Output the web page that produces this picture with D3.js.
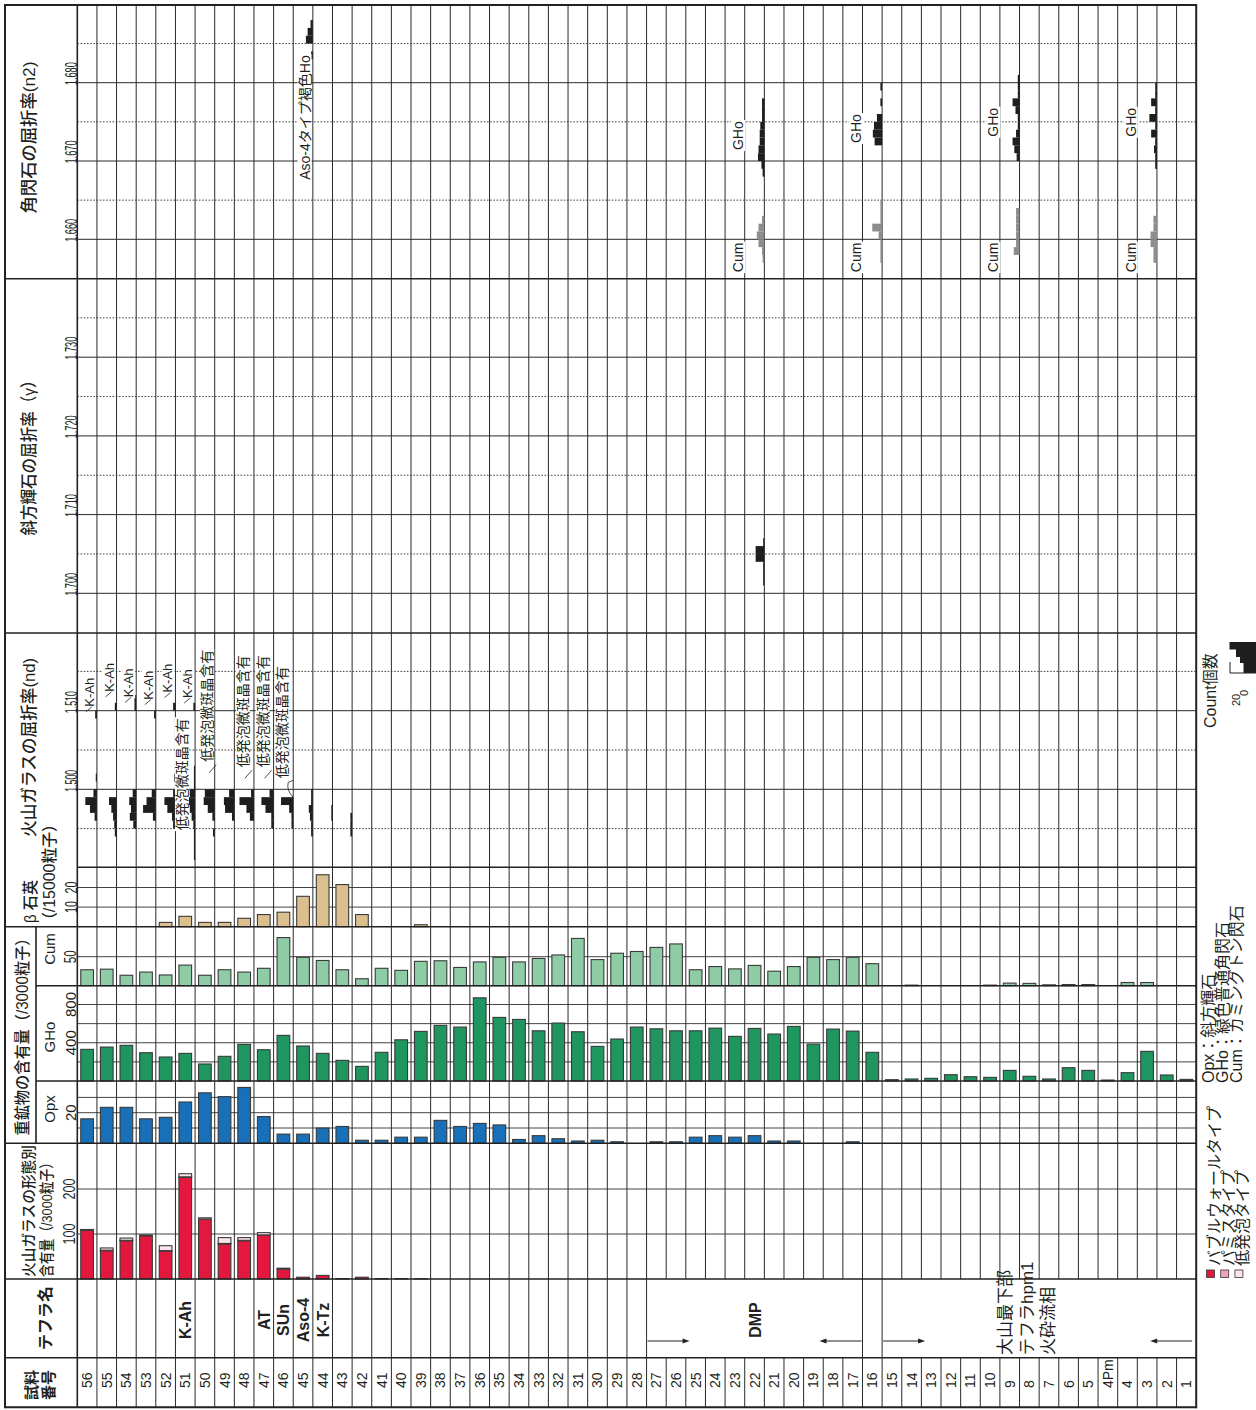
<!DOCTYPE html>
<html>
<head>
<meta charset="utf-8">
<style>
html, body { margin: 0; padding: 0; background: #fff; overflow: hidden; }
svg { display: block; }
text { font-family: "Liberation Sans", Arial, "Noto Sans CJK JP", sans-serif; fill: #231f20; }
</style>
<title></title></head>
<body>
<script src="https://cdn.jsdelivr.net/npm/d3@7/dist/d3.min.js"></script>
<script>

// sample order, left to right
var samples = ["56","55","54","53","52","51","50","49","48","47","46","45","44","43","42","41","40","39","38","37",
  "36","35","34","33","32","31","30","29","28","27","26","25","24","23","22","21","20","19","18","17",
  "16","15","14","13","12","11","10","9","8","7","6","5","4Pm","4","3","2","1"];

// volcanic glass by shape (/3000 grains): bubble wall, pumice, low vesicular
var glassBW = [108,63,85,96,62,226,133,78,85,98,22,4,8,1,4,1,1,0.5,0,0, 0,0,0,0,0,0,0,0,0,0,0,0,0,0,0,0,0,0,0,0, 0,0,0,0,0,0,0,0,0,0,0,0,0,0,0,0,0];
var glassPm = [1,1,1,0,1,1,0,1,1,0,0,0,0,0,0,0,0,0,0,0, 0,0,0,0,0,0,0,0,0,0,0,0,0,0,0,0,0,0,0,0, 0,0,0,0,0,0,0,0,0,0,0,0,0,0,0,0,0];
var glassLv = [1,5,5,2,11,7,3,13,6,5,2,0,0,0,0,0,0,0,0,0, 0,0,0,0,0,0,0,0,0,0,0,0,0,0,0,0,0,0,0,0, 0,0,0,0,0,0,0,0,0,0,0,0,0,0,0,0,0];

// heavy minerals (/3000 grains)
var opx = [16,23.5,23.5,16,17,27,33,30.5,36.5,17.5,6,6,10,11,2,2,4,4,15,11,
  13,12,2.5,5,3,1.5,2,1,0,1,1,4,5,4,5,1.5,1.5,0,0,1, 0,0,0,0,0,0,0,0,0,0,0,0,0,0,0,0,0];
var gho = [331,355,373,296,251,289,178,258,383,327,477,366,289,216,153,300,431,519,582,564,
  870,665,644,525,606,515,362,439,564,546,525,525,553,467,550,491,571,386,543,522,
  300,14,21,28,66,45,38,111,49,21,139,111,10,87,310,63,17];
var cum = [27.5,28.5,18,23.5,18.5,35.5,18,27.5,23.5,30,83,49,43.5,27.5,12,30,26.5,42,43,31.5,
  41,49,41,47,53,81.5,45,56,59,66,72,27.5,33,29,35,25,33,49,45,49,
  38,0,1,0,0,0,1,4.5,4,1.5,2,2,0,5.5,5.5,0,0];

// beta quartz (/15000 grains)
var quartz = [0,0,0,0,2.2,5.3,2.2,2.2,4.3,6.2,7.4,15.5,26.5,21.5,6.2,0,0,1,0,0,
  0,0,0,0,0,0,0,0,0,0,0,0,0,0,0,0,0,0,0,0, 0,0,0,0,0,0,0,0,0,0,0,0,0,0,0,0,0];

// refractive index histograms: [bin lower bound, count]
var ndHist = {
  "56": [[1.509,3],[1.501,2],[1.499,6],[1.498,20],[1.497,12],[1.496,4]],
  "55": [[1.510,3],[1.498,13],[1.497,9],[1.496,6],[1.495,4],[1.494,3]],
  "54": [[1.511,3],[1.510,3],[1.499,6],[1.498,12],[1.497,9],[1.496,11],[1.495,5]],
  "53": [[1.509,3],[1.499,7],[1.498,16],[1.497,22],[1.496,5]],
  "52": [[1.510,4],[1.501,2],[1.499,4],[1.498,19],[1.497,14],[1.496,6],[1.495,4]],
  "51": [[1.510,3],[1.502,2],[1.501,2],[1.500,2],[1.499,9],[1.498,13],[1.497,9],[1.496,6],[1.495,3],[1.494,2],[1.493,2],[1.492,2],[1.491,2]],
  "50": [[1.499,17],[1.498,19],[1.497,12],[1.496,4],[1.494,3]],
  "49": [[1.499,9],[1.498,18],[1.497,16],[1.496,4]],
  "48": [[1.499,5],[1.498,25],[1.497,13],[1.496,7]],
  "47": [[1.499,7],[1.498,21],[1.497,14],[1.496,4],[1.495,4]],
  "46": [[1.498,21],[1.497,7],[1.496,3],[1.495,3]],
  "45": [[1.499,3],[1.498,3],[1.497,7],[1.496,5],[1.495,3],[1.494,3]],
  "44": [[1.497,2],[1.496,2]],
  "43": [[1.496,3],[1.495,3],[1.494,3]]
};
var gammaHist = {
  "22": [[1.701,2],[1.702,2],[1.703,2],[1.704,15],[1.705,15],[1.706,2]]
};
var n2GHoHist = {
  "22": [[1.677,4],[1.676,4],[1.675,4],[1.674,7],[1.673,8],[1.672,8],[1.671,10],[1.670,11],[1.669,5],[1.668,3]],
  "16": [[1.679,3],[1.677,3],[1.675,9],[1.674,14],[1.673,16],[1.672,13]],
  "9": [[1.680,3],[1.679,3],[1.678,3],[1.677,12],[1.676,7],[1.675,3],[1.674,3],[1.673,6],[1.672,12],[1.671,9],[1.670,5]],
  "3": [[1.679,3],[1.678,3],[1.677,10],[1.676,3],[1.675,13],[1.674,3],[1.673,10],[1.672,3],[1.671,5],[1.670,3],[1.669,3]]
};
var n2CumHist = {
  "22": [[1.662,4],[1.661,10],[1.660,13],[1.659,10],[1.658,4],[1.657,3]],
  "16": [[1.664,3],[1.663,3],[1.662,3],[1.661,17],[1.660,6],[1.659,3],[1.658,3],[1.657,3]],
  "9": [[1.663,6],[1.662,6],[1.661,6],[1.660,6],[1.659,6],[1.658,10]],
  "3": [[1.662,6],[1.661,6],[1.660,11],[1.659,11],[1.658,6],[1.657,6]]
};
var n2BrownHist = {
  "45": [[1.687,4],[1.686,9],[1.685,12],[1.683,3]]
};

// tick labels
var n2Ticks = [1.660, 1.670, 1.680];
var gammaTicks = [1.700, 1.710, 1.720, 1.730];
var ndTicks = [1.500, 1.510];
var quartzTicks = [10, 20];
var cumTicks = [50];
var ghoTicks = [400, 800];
var opxTicks = [20];
var glassTicks = [100, 200];

// tephra names
var tephraSamples = ["51","47","46","45","44"];
var tephraNames = ["K-Ah","AT","SUn","Aso-4","K-Tz"];

// annotations
var kahSamples = ["56","55","54","53","52","51"];
var kahAt = [1.5105, 1.5124, 1.5117, 1.5114, 1.5123, 1.5116];
var lowSamples = ["51","50","48","47","46"];
var lowAt = [1.4948, 1.5035, 1.5028, 1.5028, 1.5014];
var n2LabelSamples = ["22","16","9","3"];
var ghoLabelAt = [1.6714, 1.6723, 1.6731, 1.6731];

var width = 1256, height = 1410;
var left = 5, x0 = 77.3, right = 1196.2, topY = 5, bottom = 1407.3;

var svg = d3.select("body").append("svg")
    .attr("width", width)
    .attr("height", height);

var x = d3.scaleBand().domain(samples).range([x0, right]);
var bw = x.bandwidth();
var barW = 12.7;
var cnt = d3.scaleLinear().domain([0, 20]).range([0, 11.6]);

// vertical scales of each panel
var yN2 = d3.scaleLinear().domain([1.660, 1.680]).range([239.3, 82.7]);
var yG = d3.scaleLinear().domain([1.700, 1.730]).range([593.3, 357.2]);
var yNd = d3.scaleLinear().domain([1.500, 1.510]).range([789.3, 710.7]);
var yQ = d3.scaleLinear().domain([0, 20]).range([926.7, 887.5]);
var yCum = d3.scaleLinear().domain([0, 50]).range([985.7, 956.7]);
var yGHo = d3.scaleLinear().domain([0, 800]).range([1081, 1004.5]);
var yOpx = d3.scaleLinear().domain([0, 20]).range([1143.3, 1112.7]);
var yGl = d3.scaleLinear().domain([0, 200]).range([1279, 1189]);

var bN2 = 278.7, bG = 633, bNd = 867.3, bQ = 926.7, bCum = 985.7, bGHo = 1081, bOpx = 1143.3, bGl = 1279, bTe = 1357.7;

// horizontal grid lines
function hgrid(vals, y, dashed, color) {
  svg.append("g").selectAll("line").data(vals).join("line")
    .attr("x1", x0).attr("x2", right)
    .attr("y1", d => y(d)).attr("y2", d => y(d))
    .attr("stroke", color || "#2a2a2a")
    .attr("stroke-width", 1)
    .attr("stroke-dasharray", dashed ? "1.6,1.6" : null);
}
hgrid(n2Ticks, yN2);
hgrid([1.665, 1.675, 1.685], yN2, true, "#444");
hgrid(gammaTicks, yG);
hgrid([1.705, 1.715, 1.725, 1.735], yG, true, "#444");
hgrid(ndTicks, yNd);
hgrid([1.495, 1.505, 1.515], yNd, true, "#444");
hgrid(quartzTicks, yQ, false, "#444");
hgrid(cumTicks, yCum, false, "#444");
hgrid([200, 400, 600, 800], yGHo, false, "#444");
hgrid([10, 20, 30], yOpx, false, "#444");
hgrid(glassTicks, yGl, false, "#444");

// vertical column lines; the tephra row is merged for the DMP and lower groups
var edges = d3.range(1, samples.length);
var vg = svg.append("g").attr("stroke", "#2a2a2a").attr("stroke-width", 1);
vg.selectAll(".va").data(edges).join("line")
  .attr("x1", i => x0 + i * bw).attr("x2", i => x0 + i * bw)
  .attr("y1", topY).attr("y2", bGl);
vg.selectAll(".vb").data(edges).join("line")
  .attr("x1", i => x0 + i * bw).attr("x2", i => x0 + i * bw)
  .attr("y1", bTe).attr("y2", bottom);
vg.selectAll(".vc").data(edges.filter(i => i <= samples.indexOf("27") || i == samples.indexOf("16") || i == samples.indexOf("15"))).join("line")
  .attr("x1", i => x0 + i * bw).attr("x2", i => x0 + i * bw)
  .attr("y1", bGl).attr("y2", bTe);

// simple bars
function bars(vals, y, color) {
  var rows = samples.map((s, i) => ({s: s, v: vals[i]})).filter(d => d.v > 0);
  svg.append("g").selectAll("rect").data(rows).join("rect")
    .attr("x", d => x(d.s) + (bw - barW) / 2)
    .attr("y", d => y(d.v))
    .attr("width", barW)
    .attr("height", d => y(0) - y(d.v))
    .attr("fill", color)
    .attr("stroke", "#3a3a3a")
    .attr("stroke-width", 1.1);
}
bars(quartz, yQ, "#dcbf8e");
bars(cum, yCum, "#8ecca6");
bars(gho, yGHo, "#1f955f");
bars(opx, yOpx, "#1870b8");

// stacked glass bars
var glassRows = samples.map((s, i) => ({s: s, bw: glassBW[i], pm: glassPm[i], lv: glassLv[i]}));
var stack = d3.stack().keys(["bw", "pm", "lv"])(glassRows);
var glassColor = {bw: "#e4173f", pm: "#f29ec1", lv: "#fde4ec"};
svg.append("g").selectAll("g").data(stack).join("g")
  .attr("fill", d => glassColor[d.key])
  .selectAll("rect").data(d => d.filter(e => e[1] - e[0] > 0)).join("rect")
  .attr("x", d => x(d.data.s) + (bw - barW) / 2)
  .attr("y", d => yGl(d[1]))
  .attr("width", barW)
  .attr("height", d => yGl(d[0]) - yGl(d[1]))
  .attr("stroke", "#3a3a3a")
  .attr("stroke-width", 1.1);

// refractive index histograms, bars grow leftward from the column's right edge
function hist(data, y, color) {
  var rows = [];
  Object.keys(data).forEach(s => data[s].forEach(b => rows.push({s: s, v: b[0], c: b[1]})));
  svg.append("g").selectAll("rect").data(rows).join("rect")
    .attr("x", d => x(d.s) + bw - cnt(d.c))
    .attr("y", d => y(d.v + 0.001))
    .attr("width", d => cnt(d.c))
    .attr("height", d => y(d.v) - y(d.v + 0.001))
    .attr("fill", color);
}
hist(ndHist, yNd, "#1e1e1e");
hist(gammaHist, yG, "#1e1e1e");
hist(n2GHoHist, yN2, "#1e1e1e");
hist(n2BrownHist, yN2, "#1e1e1e");
hist(n2CumHist, yN2, "#8d8d8d");

// panel borders and frame
function bline(xa, ya, xb, yb, w) {
  svg.append("line").attr("x1", xa).attr("y1", ya).attr("x2", xb).attr("y2", yb)
    .attr("stroke", "#222").attr("stroke-width", w || 1.6);
}
[bN2, bG, bQ, bOpx, bGl, bTe].forEach(y => bline(left, y, right, y));
bline(x0, bNd, right, bNd);
[bCum, bGHo].forEach(y => bline(36, y, right, y));
bline(x0, topY, x0, bottom);
bline(36, bQ, 36, bOpx);
bline(left, topY, right, topY, 2);
bline(left, bottom, right, bottom, 2);
bline(left, topY - 1, left, bottom + 1, 2);
bline(right, topY - 1, right, bottom + 1, 2);

// rotated text helper
function vtext(x, y, str, size, opt) {
  opt = opt || {};
  var g = svg.append("g").attr("transform", "translate(" + x + "," + y + ") rotate(-90)");
  var t = g.append("text")
    .attr("font-size", size)
    .attr("text-anchor", opt.anchor || "start")
    .text(str);
  if (opt.bold) t.attr("font-weight", opt.bold);
  if (opt.len) t.attr("textLength", opt.len).attr("lengthAdjust", "spacingAndGlyphs");
  if (opt.bg) {
    var b = t.node().getBBox();
    g.insert("rect", "text")
      .attr("x", b.x - 1).attr("y", b.y + 1)
      .attr("width", b.width + 2).attr("height", b.height - 2)
      .attr("fill", "#fff");
  }
  return t;
}

// tick labels
n2Ticks.forEach(v => vtext(76.5, yN2(v) + 2.5, d3.format(".3f")(v), 17, {len: 23}));
gammaTicks.forEach(v => vtext(76.5, yG(v) + 2.5, d3.format(".3f")(v), 17, {len: 23}));
ndTicks.forEach(v => vtext(76.5, yNd(v) + 2.5, d3.format(".3f")(v), 17, {len: 22}));
quartzTicks.forEach(v => vtext(76.5, yQ(v), v, 16, {anchor: "middle", len: 12}));
cumTicks.forEach(v => vtext(75.5, yCum(v), v, 16, {anchor: "middle", len: 13}));
ghoTicks.forEach(v => vtext(75.5, yGHo(v), v, 15, {anchor: "middle"}));
opxTicks.forEach(v => vtext(75.5, yOpx(v), v, 15, {anchor: "middle"}));
glassTicks.forEach(v => vtext(75, yGl(v), v, 16, {anchor: "middle", len: 21}));

// panel titles
vtext(35, 137.5, "角閃石の屈折率(n2)", 17, {anchor: "middle", len: 152, bold: 500});
vtext(35, 454, "斜方輝石の屈折率（γ）", 17, {anchor: "middle", len: 163, bold: 500});
vtext(35, 747.5, "火山ガラスの屈折率(nd)", 17, {anchor: "middle", len: 179, bold: 500});
vtext(35.5, 923, "β 石英", 16, {len: 43, bold: 500});
vtext(55, 928, "（/15000粒子）", 16, {len: 112, bold: 500});
vtext(28, 1033, "重鉱物の含有量（/3000粒子）", 16, {anchor: "middle", len: 205, bold: 500});
vtext(55, 949, "Cum", 15, {anchor: "middle"});
vtext(55, 1037, "GHo", 15, {anchor: "middle"});
vtext(55, 1109, "Opx", 15, {anchor: "middle"});
vtext(34, 1277, "火山ガラスの形態別", 15, {len: 132, bold: 500});
vtext(52, 1277, "含有量（/3000粒子）", 15, {len: 121, bold: 500});
vtext(51, 1318, "テフラ名", 16, {anchor: "middle", bold: 600});
vtext(36.5, 1385, "試料", 15, {anchor: "middle", bold: 700});
vtext(53.5, 1385, "番号", 15, {anchor: "middle", bold: 700});

// sample numbers
samples.forEach(s => vtext(x(s) + bw / 2 + 5, 1388, s, 14));

// tephra names
tephraSamples.forEach((s, i) => vtext(x(s) + bw / 2 + 6, 1320, tephraNames[i], 16, {anchor: "middle", bold: 700}));
var dmpL = x("27"), dmpR = x("17") + bw;
vtext((dmpL + dmpR) / 2 + 6, 1320, "DMP", 16, {anchor: "middle", bold: 700});
vtext(x("9") + 11, 1355, "大山最下部", 17);
vtext(x("8") + 13, 1355, "テフラhpm1", 17);
vtext(x("7") + 15, 1355, "火砕流相", 17);

// group arrows
function arrow(xa, xb, y) {
  var dir = xb > xa ? 1 : -1;
  svg.append("line").attr("x1", xa).attr("x2", xb - dir * 4).attr("y1", y).attr("y2", y)
    .attr("stroke", "#222").attr("stroke-width", 1);
  svg.append("path")
    .attr("d", "M" + xb + "," + y + "L" + (xb - dir * 7) + "," + (y - 2.5) + "L" + (xb - dir * 7) + "," + (y + 2.5) + "Z")
    .attr("fill", "#222");
}
arrow(dmpL + 1, dmpL + 43, 1341);
arrow(x("16") - 1, x("16") - 43, 1341);
arrow(x("15") + 1, x("15") + 43, 1341);
arrow(right - 4, right - 46, 1341);

// annotations in the glass refractive index panel
kahSamples.forEach(function(s, i) {
  var bx = x(s) + bw - 3, sy = yNd(kahAt[i]);
  vtext(bx, sy, "K-Ah", 13, {bg: true});
  svg.append("line").attr("x1", bx - 8).attr("y1", sy + 5).attr("x2", bx - 2).attr("y2", sy)
    .attr("stroke", "#222").attr("stroke-width", 0.8);
});
lowSamples.forEach(function(s, i) {
  var bx = i == 0 ? x(s) + 11.5 : x(s) + bw - (i == 1 ? 2.5 : 6), sy = yNd(lowAt[i]);
  vtext(bx, sy, "低発泡微斑晶含有", 14, {bg: true});
  if (i == 4) {
    svg.append("path")
      .attr("d", "M" + (bx + 6) + "," + (sy + 19) + "Q" + (bx - 1) + "," + (sy + 12) + " " + (bx + 1) + "," + (sy + 4) + "L" + (bx + 6) + "," + (sy + 2))
      .attr("fill", "none").attr("stroke", "#222").attr("stroke-width", 0.8);
  } else if (i > 0) {
    svg.append("line").attr("x1", bx - 3).attr("y1", sy + 11).attr("x2", bx + 4).attr("y2", sy + 3)
      .attr("stroke", "#222").attr("stroke-width", 0.8);
  }
});

// annotations in the hornblende panel
vtext(x("45") + bw - 3.3, yN2(1.6676), "Aso-4タイプ褐色Ho", 14, {bg: true});
n2LabelSamples.forEach(function(s, i) {
  vtext(x(s) - 1.5, yN2(ghoLabelAt[i]), "GHo", 14, {bg: true});
  vtext(x(s) - 1.5, yN2(1.6558), "Cum", 14, {bg: true});
});

// legend, glass shapes
var lgColors = ["#e4173f", "#f29ec1", "#fde4ec"];
var lgGlass = ["バブルウォールタイプ", "パミスタイプ", "低発泡タイプ"];
var lgMin = ["Opx：斜方輝石", "GHo：緑色普通角閃石", "Cum：カミングトン閃石"];
lgColors.forEach(function(c, i) {
  svg.append("rect").attr("x", 1206.5 + i * 14.2).attr("y", 1270).attr("width", 8).attr("height", 7.5)
    .attr("fill", c).attr("stroke", "#333").attr("stroke-width", 0.8);
  vtext(1219.5 + i * 14.2, 1266, lgGlass[i], 16);
  vtext(1213.5 + i * 14.2, 1083, lgMin[i], 16);
});

// legend, count scale
vtext(1216, 728, "Count個数", 16);
vtext(1240, 706, "20", 11);
vtext(1248, 696, "0", 11);
var steps = [[642, 1229.5], [649.5, 1236], [657, 1240], [663, 1243.5], [673, 1243.5]];
var sp = "M1259.5,642";
steps.forEach(function(p, i) {
  if (i < steps.length - 1) sp += "L" + p[1] + "," + p[0] + "L" + p[1] + "," + steps[i + 1][0];
});
sp += "L1259.5,673Z";
svg.append("path").attr("d", sp).attr("fill", "#1e1e1e");
svg.append("path").attr("d", "M1230,662L1230,673L1259.5,673").attr("fill", "none").attr("stroke", "#1e1e1e").attr("stroke-width", 1);

</script>
</body>
</html>
